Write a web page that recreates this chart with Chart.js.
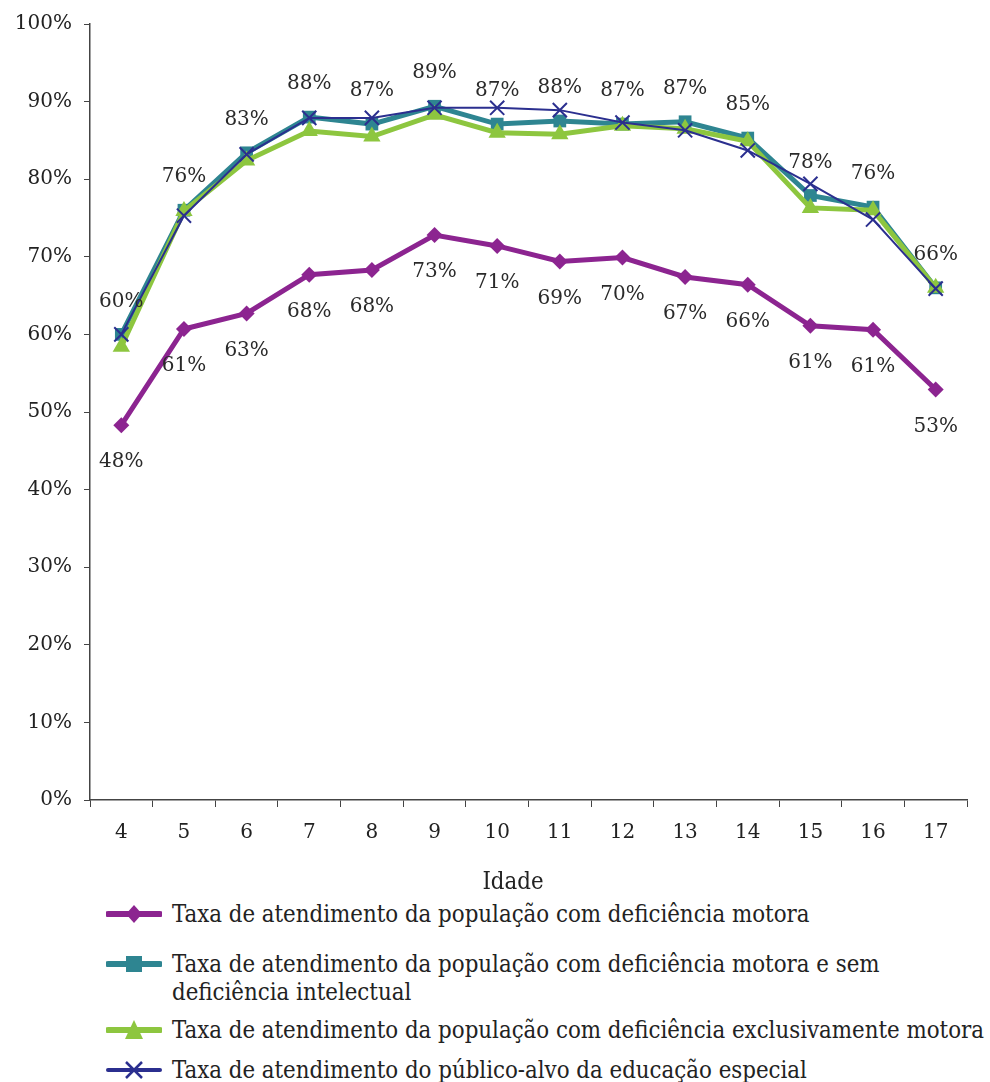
<!DOCTYPE html>
<html>
<head>
<meta charset="utf-8">
<script src="https://cdn.jsdelivr.net/npm/chart.js@4/dist/chart.umd.min.js"></script>
<style>
  html, body { margin: 0; padding: 0; background: #fff; }
  #wrap { position: relative; width: 990px; height: 1082px; overflow: hidden; }
  #chartBox { position: absolute; left: 0; top: 0; width: 990px; height: 900px; }
  #legend { position: absolute; left: 106px; top: 0; width: 884px; color: #222; }
  #xTitle { position: absolute; left: 0; width: 1026px; top: 867px; text-align: center; color: #222; }
  .item { position: absolute; left: 0; display: flex; align-items: flex-start; white-space: nowrap; }
  .item svg { flex: none; margin-right: 10px; margin-top: 3px; }
  .item span { line-height: 28px; }
</style>
</head>
<body>
<div id="wrap">
  <div id="chartBox"><canvas id="chart"></canvas></div>
  <div id="xTitle">Idade</div>
  <div id="legend"></div>
</div>
<script>
// ---- Data ----
const ages = ['4','5','6','7','8','9','10','11','12','13','14','15','16','17'];

const motora       = [48.3, 60.7, 62.7, 67.7, 68.3, 72.8, 71.4, 69.4, 69.9, 67.4, 66.4, 61.1, 60.6, 52.9];
const motoraSemInt = [60.0, 76.0, 83.4, 88.0, 87.1, 89.4, 87.1, 87.5, 87.1, 87.4, 85.3, 77.9, 76.4, 66.0];
const exclMotora   = [58.4, 75.9, 82.4, 86.2, 85.5, 88.3, 86.0, 85.8, 86.9, 86.5, 84.9, 76.3, 76.0, 66.0];
const publicoAlvo  = [60.0, 75.3, 83.2, 87.9, 87.9, 89.2, 89.2, 88.9, 87.3, 86.3, 83.7, 79.4, 74.8, 65.9];

const yTicks = [0, 10, 20, 30, 40, 50, 60, 70, 80, 90, 100];

const seriesNames = [
  'Taxa de atendimento da população com deficiência motora',
  ['Taxa de atendimento da população com deficiência motora e sem', 'deficiência intelectual'],
  'Taxa de atendimento da população com deficiência exclusivamente motora',
  'Taxa de atendimento do público-alvo da educação especial'
];

const PURPLE = '#8c2490';
const TEAL   = '#2e8591';
const GREEN  = '#8dc63f';
const BLUE   = '#2b2f8f';
const AXIS   = '#444';

// ---- Pick installed fonts (first one that actually resolves) ----
const probe = document.createElement('canvas').getContext('2d');
function hasFont(name) {
  const s = 'mmmmmmmmmmlli 0123456789% WQgy';
  return ['monospace', 'sans-serif'].some(fb => {
    probe.font = '40px ' + fb;
    const a = probe.measureText(s).width;
    probe.font = `40px "${name}", ${fb}`;
    return probe.measureText(s).width !== a;
  });
}
function pick(list, last) {
  const f = list.find(hasFont);
  return f ? `"${f}", ${last}` : last;
}
const FONT  = pick(['DejaVu Serif', 'Noto Serif', 'Liberation Serif', 'DejaVu Sans'], 'serif');
const LFONT = pick(['DejaVu Serif Condensed', 'Liberation Serif', 'Noto Serif', 'Liberation Sans Narrow', 'DejaVu Sans Condensed'], 'serif');

// size the legend font so its longest line spans about the same width as the reference
probe.font = '25px ' + LFONT;
let lsize = 25 * 812 / probe.measureText(seriesNames[2]).width;
lsize = Math.max(18, Math.min(28, lsize));

// ---- Data labels: purple below its points, teal above ----
const pointLabels = {
  id: 'pointLabels',
  afterDatasetsDraw(chart) {
    const ctx = chart.ctx;
    ctx.save();
    ctx.font = '20px ' + FONT;
    ctx.fillStyle = '#2a2a2a';
    ctx.textAlign = 'center';
    ctx.textBaseline = 'middle';
    [[0, 37], [1, -33]].forEach(([di, dy]) => {
      const meta = chart.getDatasetMeta(di);
      const data = chart.data.datasets[di].data;
      meta.data.forEach((pt, i) => {
        ctx.fillText(Math.round(data[i]) + '%', pt.x, pt.y + dy);
      });
    });
    ctx.restore();
  }
};

new Chart(document.getElementById('chart'), {
  type: 'line',
  data: {
    labels: ages,
    datasets: [
      { label: 'motora', data: motora, borderColor: PURPLE, backgroundColor: PURPLE,
        borderWidth: 5, pointStyle: 'rectRot', pointRadius: 8, pointBorderWidth: 0, order: 3 },
      { label: 'semInt', data: motoraSemInt, borderColor: TEAL, backgroundColor: TEAL,
        borderWidth: 5, pointStyle: 'rect', pointRadius: 9, pointBorderWidth: 0, order: 2 },
      { label: 'excl', data: exclMotora, borderColor: GREEN, backgroundColor: GREEN,
        borderWidth: 5, pointStyle: 'triangle', pointRadius: 10, pointBorderWidth: 0, order: 1 },
      { label: 'publico', data: publicoAlvo, borderColor: BLUE, backgroundColor: BLUE,
        borderWidth: 2, pointStyle: 'crossRot', pointRadius: 10, pointBorderWidth: 2, order: 0 }
    ]
  },
  options: {
    responsive: true,
    maintainAspectRatio: false,
    animation: false,
    layout: { padding: { top: 23, right: 23, left: 0, bottom: 0 } },
    plugins: { legend: { display: false }, tooltip: { enabled: false } },
    elements: { line: { tension: 0 } },
    scales: {
      x: {
        offset: true,
        afterFit(scale) { scale.height = 100; },
        grid: { display: true, drawOnChartArea: false, drawTicks: true, tickLength: 7, color: AXIS, offset: true },
        border: { display: true, color: AXIS, width: 1.5 },
        ticks: { color: '#222', font: { family: FONT, size: 20 }, padding: 14, maxRotation: 0 }
      },
      y: {
        min: 0, max: 100,
        afterFit(scale) { scale.width = 90; },
        afterBuildTicks(scale) { scale.ticks = yTicks.map(v => ({ value: v })); },
        grid: { display: true, drawOnChartArea: false, drawTicks: true, tickLength: 6, color: AXIS },
        border: { display: true, color: AXIS, width: 1.5 },
        ticks: { color: '#222', font: { family: FONT, size: 20 }, padding: 12, callback: v => v + '%' }
      }
    }
  },
  plugins: [pointLabels]
});

const xTitle = document.getElementById('xTitle');
xTitle.style.fontFamily = LFONT;
xTitle.style.fontSize = lsize + 'px';

// ---- Legend (HTML, one entry wraps onto two lines) ----
const legendStyles = [
  { color: PURPLE, mark: 'diamond', top: 900 },
  { color: TEAL,   mark: 'square',  top: 950 },
  { color: GREEN,  mark: 'triangle', top: 1016 },
  { color: BLUE,   mark: 'cross',   top: 1056 }
];
const legendEl = document.getElementById('legend');
legendEl.style.fontFamily = LFONT;
legendEl.style.fontSize = lsize + 'px';
function markerSvg(color, mark) {
  let m = '';
  if (mark === 'diamond')  m = `<polygon points="28,2 36,11 28,20 20,11" fill="${color}"/>`;
  if (mark === 'square')   m = `<rect x="20" y="3" width="16" height="16" fill="${color}"/>`;
  if (mark === 'triangle') m = `<polygon points="28,1 37,20 19,20" fill="${color}"/>`;
  if (mark === 'cross')    m = `<path d="M20,3 L36,19 M36,3 L20,19" stroke="${color}" stroke-width="2.5"/>`;
  const w = mark === 'cross' ? 4 : 6;
  return `<svg width="56" height="22"><line x1="2" y1="11" x2="54" y2="11" stroke="${color}" stroke-width="${w}" stroke-linecap="round"/>${m}</svg>`;
}
legendStyles.forEach((s, i) => {
  const div = document.createElement('div');
  div.className = 'item';
  div.style.top = s.top + 'px';
  const name = seriesNames[i];
  const text = Array.isArray(name) ? name.join('<br>') : name;
  div.innerHTML = markerSvg(s.color, s.mark) + `<span>${text}</span>`;
  legendEl.appendChild(div);
});
</script>
</body>
</html>
